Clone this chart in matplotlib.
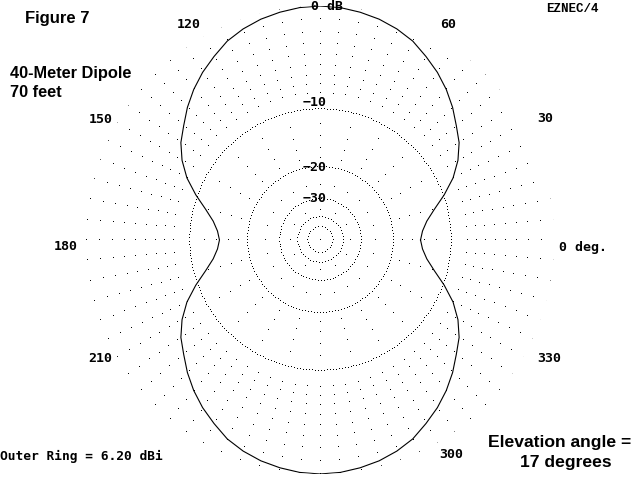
import numpy as np
import matplotlib
matplotlib.use("Agg")
import matplotlib.pyplot as plt

# azimuth angle (deg) and relative gain (dB, 0 dB = outer ring = 6.20 dBi)
angles_deg = np.arange(0, 361, 5)
gain_db = [
    -14.5, -14.1, -13.2, -11.7, -9.8, -8.0, -6.6, -5.5, -4.7, -3.8,
    -3.0, -2.3, -1.7, -1.1, -0.7, -0.4, -0.2, -0.05, 0.0,
    -0.05, -0.2, -0.4, -0.7, -1.1, -1.7, -2.3, -3.0, -3.8, -4.7,
    -5.5, -6.6, -8.0, -9.8, -11.7, -13.2, -14.1, -14.5,
    -14.1, -13.2, -11.7, -9.8, -8.0, -6.6, -5.5, -4.7, -3.8, -3.0,
    -2.3, -1.7, -1.1, -0.7, -0.4, -0.2, -0.05, 0.0,
    -0.05, -0.2, -0.4, -0.7, -1.1, -1.7, -2.3, -3.0, -3.8, -4.7,
    -5.5, -6.6, -8.0, -9.8, -11.7, -13.2, -14.1, -14.5,
]

major_rings_db = [-10, -20, -30, -40, -50]
# sparse dot rings: (dB, angular step in degrees)
minor_rings = [(0, 5), (-1, 5), (-2, 5), (-3, 5), (-4, 5), (-5, 5), (-6, 5),
               (-7, 5), (-8, 5), (-12, 15), (-14, 15), (-16, 15), (-18, 15),
               (-25, 15), (-35, 30)]

# label texts with their pixel anchors (left x, centre y)
ring_labels = [("\u221210", 303, 103), ("\u221220", 303, 167.5),
               ("\u221230", 303, 198), ("0 dB", 311, 7)]
angle_labels = [("120", 177, 24.5), ("60", 440, 24.5), ("150", 89, 119.5),
                ("30", 537, 119), ("180", 54, 247), ("0 deg.", 559, 247.5),
                ("210", 88, 359), ("330", 537, 358.5), ("300", 439, 454.5)]


def arrl(db):
    # ARRL log scale: radius shrinks by 0.89 for every 2 dB
    return 0.89 ** (-np.asarray(db, dtype=float) / 2)


W, H = 640, 480
cx, cy, R = 320, 240, 234

fig = plt.figure(figsize=(6.4, 4.8), dpi=100)
ax = fig.add_axes([(cx - R) / W, (H - cy - R) / H, 2 * R / W, 2 * R / H],
                  projection="polar")
ax.set_rlim(0, 1)
ax.grid(False)
ax.set_xticks([])
ax.set_yticks([])
ax.spines["polar"].set_visible(False)
ax.patch.set_alpha(0)

# sparse dot grid
for db, step in minor_rings:
    t = np.deg2rad(np.arange(0, 360, step))
    ax.plot(t, np.full(t.size, arrl(db)), ",", color="black")

# dense dotted rings
for db in major_rings_db:
    r = arrl(db)
    n = int(2 * np.pi * r * R / 3)
    t = np.linspace(0, 2 * np.pi, n, endpoint=False)
    ax.plot(t, np.full(n, r), ",", color="black")
ax.plot([0], [0], ",", color="black")

# pattern
ax.plot(np.deg2rad(angles_deg), arrl(gain_db), color="black", lw=0.8)

mono = dict(family="DejaVu Sans Mono", weight="bold", fontsize=9.5,
            color="black")
sans = dict(family="Liberation Sans", weight="bold", color="black")


def px(x, y):
    return x / W, 1 - y / H


for lab, x, y in ring_labels + angle_labels:
    fig.text(*px(x, y), lab, ha="left", va="center", **mono)

fig.text(*px(25, 23), "Figure 7", ha="left", va="baseline", fontsize=12,
         **sans)
fig.text(*px(10, 78), "40-Meter Dipole", ha="left", va="baseline",
         fontsize=11.8, **sans)
fig.text(*px(10, 97), "70 feet", ha="left", va="baseline", fontsize=11.8,
         **sans)
fig.text(*px(488, 447), "Elevation angle =", ha="left", va="baseline",
         fontsize=12.6, **sans)
fig.text(*px(520, 467), "17 degrees", ha="left", va="baseline",
         fontsize=12.6, **sans)
fig.text(*px(0, 456), "Outer Ring = 6.20 dBi", ha="left", va="center",
         family="DejaVu Sans Mono", weight="bold", fontsize=9.3)
fig.text(*px(599, 8.5), "EZNEC/4", ha="right", va="center",
         family="Liberation Mono", weight="bold", fontsize=9)

fig.savefig("out.png", dpi=100)
